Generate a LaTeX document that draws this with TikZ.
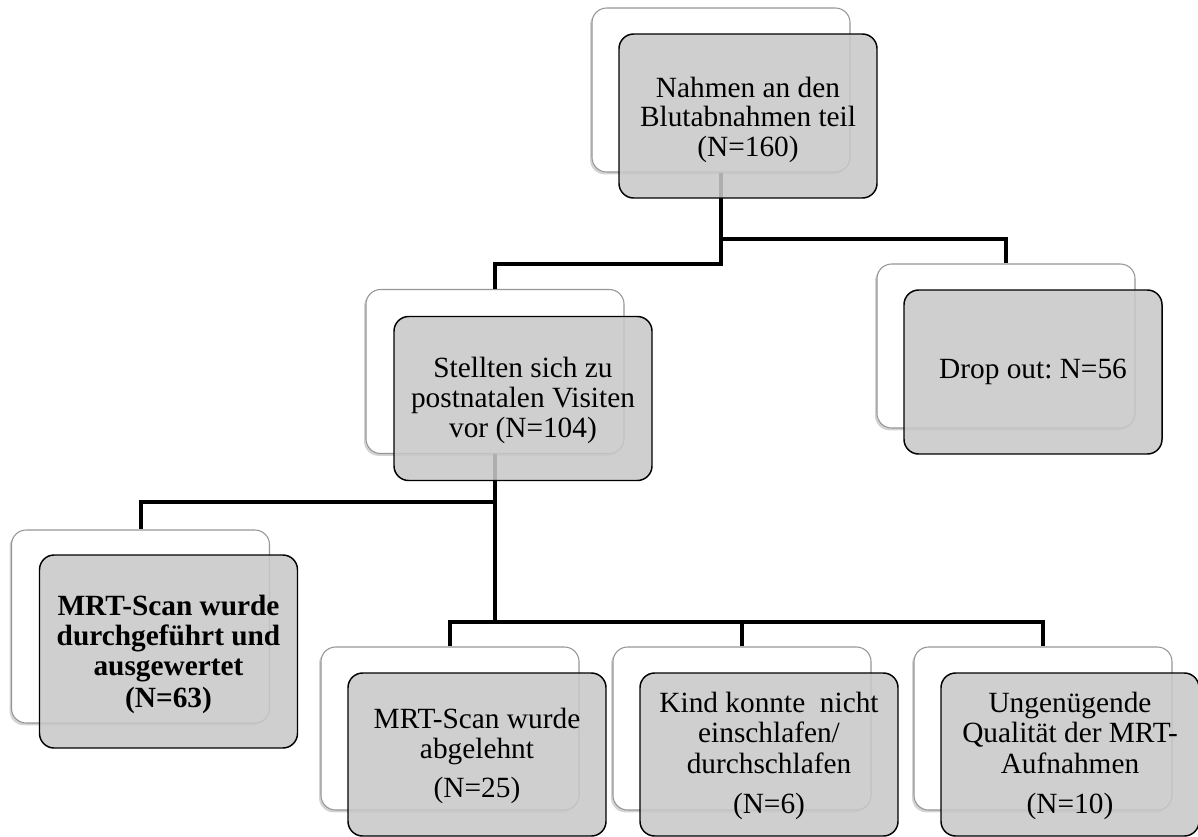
\documentclass[tikz,border=0pt]{standalone}
\usepackage{fontspec}
\setmainfont{Liberation Serif}
\usetikzlibrary{shadows,calc}
\frenchspacing

\begin{document}
\begin{tikzpicture}[x=0.75pt,y=0.75pt,yscale=-1,xscale=1,
  backbox/.style={draw={rgb,255:red,150;green,150;blue,150},line width=0.8pt,fill=white,rounded corners=11pt,
    minimum width=193.5pt,minimum height=123pt,inner sep=0pt,
    drop shadow={shadow xshift=-1.5pt,shadow yshift=-1.8pt,opacity=0.35}},
  greybox/.style={draw=black,line width=1.1pt,fill={rgb,255:red,200;green,200;blue,200},fill opacity=0.87,text opacity=1,
    rounded corners=11pt,minimum width=193.5pt,minimum height=123pt,inner sep=2pt,align=center,
    font=\fontsize{22}{22.5}\selectfont},
  conn/.style={line width=3pt,line join=miter}]
\useasboundingbox (0,0) rectangle (1198,836);

%Shape: Back boxes
\node [backbox] (topB) at (721,90) {};
\node [backbox] (rightB) at (1006,346) {};
\node [backbox] (midB) at (495,371.5) {};
\node [backbox,minimum height=144.75pt] (leftB) at (140.5,626.5) {};
\node [backbox,minimum height=122.25pt] (botaB) at (450,728.5) {};
\node [backbox,minimum height=122.25pt] (botbB) at (742,728.5) {};
\node [backbox,minimum height=122.25pt] (botcB) at (1043,728.5) {};

%Connectors
\coordinate (jmid) at ($(midB.north)+(0,-25)$);
\coordinate (jright) at ($(rightB.north)+(0,-24)$);
\coordinate (jleft) at ($(leftB.north)+(0,-27)$);
\coordinate (jbota) at ($(botaB.north)+(0,-24)$);
\coordinate (jbotb) at ($(botbB.north)+(0,-24)$);
\coordinate (jbotc) at ($(botcB.north)+(0,-24)$);
\draw [conn] (topB.south) |- (jmid) -- (midB.north) ;
\draw [conn] (topB.south) |- (jright) -- (rightB.north) ;
\draw [conn] (midB.south) |- (jleft) -- (leftB.north) ;
\draw [conn] (midB.south) |- (jbota) -- (botaB.north) ;
\draw [conn] (midB.south) |- (jbotc) -- (botcB.north) ;
\draw [conn] (jbotb) -- (botbB.north) ;

% Text Nodes
\node [greybox,font=\fontsize{22}{22}\selectfont] (top) at ([shift={(27,26)}]topB.center) {\rule{0pt}{21pt}Nahmen an den\\Blutabnahmen teil\\(N=160)};
\node [greybox] (right) at ([shift={(27,26)}]rightB.center) {Drop out: N=56};
\node [greybox] (mid) at ([shift={(28,27)}]midB.center) {\rule{0pt}{17.5pt}Stellten sich zu\\postnatalen Visiten\\vor (N=104)};
\node [greybox,minimum height=144.75pt,font=\fontsize{22}{22.5}\selectfont\bfseries] (left) at ([shift={(28,25)}]leftB.center) {\rule{0pt}{19pt}MRT-Scan wurde\\durchgeführt und\\ausgewertet\\[1.5pt](N=63)};
\node [greybox,minimum height=122.25pt] (bota) at ([shift={(27,26)}]botaB.center) {\rule{0pt}{17pt}MRT-Scan wurde\\abgelehnt\\[6.5pt](N=25)};
\node [greybox,minimum height=122.25pt,font=\fontsize{22}{23}\selectfont] (botb) at ([shift={(27,26)}]botbB.center) {\rule{0pt}{17pt}Kind konnte\ \ nicht\\einschlafen/\\durchschlafen\\[7pt](N=6)};
\node [greybox,minimum height=122.25pt,font=\fontsize{22}{23}\selectfont] (botc) at ([shift={(27,26)}]botcB.center) {\rule{0pt}{17pt}Ungenügende\\Qualität der MRT-\\Aufnahmen\\[7pt](N=10)};

\end{tikzpicture}
\end{document}
